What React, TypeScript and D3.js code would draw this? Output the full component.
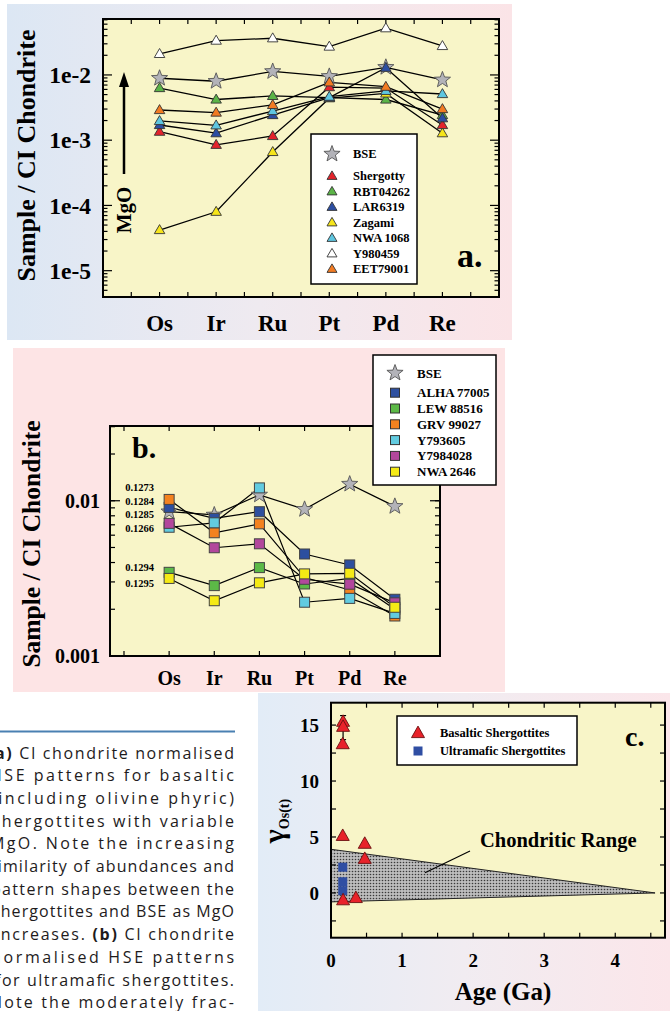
import React from "react";
import * as d3 from "d3";

// ---------- data ----------
const elements = ["Os", "Ir", "Ru", "Pt", "Pd", "Re"];

// panel a: basaltic shergottites (CI-normalised)
const bseA = [0.0089, 0.008, 0.0113, 0.0095, 0.0131, 0.0084];
const shergotty = [0.00135, 0.00085, 0.00116, 0.0065, 0.0063, 0.00171];
const rbt04262 = [0.0063, 0.0042, 0.00477, 0.0045, 0.0042, 0.00243];
const lar06319 = [0.00171, 0.00128, 0.00243, 0.0045, 0.0129, 0.00217];
const zagami = [4.2e-5, 8.0e-5, 0.00066, 0.0044, 0.0052, 0.00128];
const nwa1068 = [0.00197, 0.00169, 0.0028, 0.00465, 0.0057, 0.0051];
const y980459 = [0.021, 0.0336, 0.0365, 0.0272, 0.052, 0.0278];
const eet79001 = [0.0029, 0.00265, 0.00347, 0.0077, 0.0066, 0.003];
const yTicksA = [1e-5, 1e-4, 1e-3, 1e-2];
const yTickLabelsA = ["1e-5", "1e-4", "1e-3", "1e-2"];

// panel b: ultramafic shergottites
const bseB = [0.0085, 0.0081, 0.0109, 0.0088, 0.0128, 0.0092];
const alha77005 = [0.00906, 0.0077, 0.0085, 0.00454, 0.00386, 0.00232];
const lew88516 = [0.00346, 0.00284, 0.00371, 0.00291, 0.00316, 0.002];
const grv99027 = [0.0102, 0.00622, 0.0071, 0.0032, 0.00266, 0.00181];
const y793605 = [0.00675, 0.00721, 0.0121, 0.00222, 0.00235, 0.00188];
const y7984028 = [0.00715, 0.00498, 0.00528, 0.00312, 0.0029, 0.0022];
const nwa2646 = [0.00316, 0.00227, 0.00296, 0.00338, 0.00341, 0.00206];
const osRatioLabels = ["0.1273", "0.1284", "0.1285", "0.1266", "0.1294", "0.1295"];
const osRatioLevels = [0.01225, 0.00996, 0.00813, 0.0066, 0.00374, 0.00295];
const yTicksB = [0.001, 0.01];
const yTickLabelsB = ["0.001", "0.01"];

// panel c: gamma Os(t) vs age
const basalticAge = [0.17, 0.17, 0.165, 0.165, 0.17, 0.35, 0.475, 0.475];
const basalticGamma = [15.3, 14.85, 13.3, 5.1, -0.65, -0.45, 4.4, 3.05];
const ultramaficAge = [0.165, 0.165, 0.165];
const ultramaficGamma = [2.3, 1.0, 0.2];
const chondriticAge = [0, 4.56, 0];
const chondriticGamma = [3.9, 0, -0.8];
const errorBarAge = 0.17;
const errorBarRange = [13.7, 15.85];
const xTicksC = [0, 1, 2, 3, 4];
const yTicksC = [0, 5, 10, 15];

// caption lines (left part runs past the page edge)
const captionLines: { text: string; x0: number }[] = [
  { text: " CI chondrite normalised", x0: -12 },
  { text: "HSE patterns for basaltic", x0: -10 },
  { text: "(including olivine phyric)", x0: -9 },
  { text: "shergottites with variable", x0: -8 },
  { text: "MgO. Note the increasing", x0: -10 },
  { text: "similarity of abundances and", x0: -11 },
  { text: "pattern shapes between the", x0: -9 },
  { text: "shergottites and BSE as MgO", x0: -8 },
  { text: " CI chondrite", x0: -5 },
  { text: "normalised HSE patterns", x0: -9 },
  { text: "for ultramafic shergottites.", x0: -5 },
  { text: "Note the moderately frac-", x0: -10 },
];

const SERIF = "'Liberation Serif', 'Times New Roman', serif";
const SANS = "'Open Sans', 'Noto Sans', sans-serif";
const PLOT_BG = "#f8f5c8";

function starPath(R: number) {
  const r = R * 0.42;
  const pts: string[] = [];
  for (let i = 0; i < 10; i++) {
    const a = -Math.PI / 2 + (i * Math.PI) / 5;
    const rad = i % 2 === 0 ? R : r;
    pts.push(`${(rad * Math.cos(a)).toFixed(2)},${(rad * Math.sin(a)).toFixed(2)}`);
  }
  return "M" + pts.join("L") + "Z";
}
function triPath(w: number, h: number) {
  return `M0,${-h * 0.6}L${w / 2},${h * 0.4}L${-w / 2},${h * 0.4}Z`;
}
function logMinor(domain: [number, number]) {
  const out: number[] = [];
  for (let e = -7; e <= 0; e++) {
    for (let m = 1; m <= 9; m++) {
      const v = m * Math.pow(10, e);
      if (v > domain[0] * 1.0001 && v < domain[1] * 0.9999) out.push(v);
    }
  }
  return out;
}

// ---------- panel a ----------
function PanelA() {
  const x = d3.scaleLinear().domain([0, 7]).range([103, 499]);
  const yDom: [number, number] = [3.95e-6, 0.072];
  const y = d3.scaleLog().domain(yDom).range([297, 19]);
  const line = d3
    .line<number>()
    .x((_, i) => x(i + 1))
    .y((d) => y(d));
  const series = [
    { name: "Y980459", v: y980459, c: "#ffffff" },
    { name: "RBT04262", v: rbt04262, c: "#5bb447" },
    { name: "Zagami", v: zagami, c: "#f6e51b" },
    { name: "Shergotty", v: shergotty, c: "#e3232b" },
    { name: "LAR6319", v: lar06319, c: "#2c4ea2" },
    { name: "NWA 1068", v: nwa1068, c: "#5ec6e0" },
    { name: "EET79001", v: eet79001, c: "#f27b22" },
  ];
  const legendOrder = ["Shergotty", "RBT04262", "LAR6319", "Zagami", "NWA 1068", "Y980459", "EET79001"];
  const [x0, x1] = x.range();
  const [yb, yt] = y.range();
  const halfTicks = d3.range(0.5, 7, 0.5);
  const minor = logMinor(yDom);
  return (
    <g>
      <defs>
        <linearGradient id="bgA" x1="0" x2="1" y1="0" y2="0">
          <stop offset="0" stopColor="#dce7f4" />
          <stop offset="0.5" stopColor="#efeaf0" />
          <stop offset="1" stopColor="#fbe4e7" />
        </linearGradient>
      </defs>
      <rect x={7} y={4} width={505} height={336} fill="url(#bgA)" />
      <rect x={x0} y={yt} width={x1 - x0} height={yb - yt} fill={PLOT_BG} />
      {halfTicks.map((t) => (
        <g key={t} stroke="#000" strokeWidth={1.2}>
          <line x1={x(t)} x2={x(t)} y1={yb} y2={yb - 5} />
          <line x1={x(t)} x2={x(t)} y1={yt} y2={yt + 5} />
        </g>
      ))}
      {minor.map((t) => {
        const major = Math.abs(Math.log10(t) - Math.round(Math.log10(t))) < 1e-6;
        const len = major ? 9 : 4.5;
        return (
          <g key={t} stroke="#000" strokeWidth={1.2}>
            <line x1={x0} x2={x0 + len} y1={y(t)} y2={y(t)} />
            <line x1={x1} x2={x1 - len} y1={y(t)} y2={y(t)} />
          </g>
        );
      })}
      <rect x={x0} y={yt} width={x1 - x0} height={yb - yt} fill="none" stroke="#000" strokeWidth={2} />
      {yTicksA.map((t, i) => (
        <text key={t} x={91} y={y(t)} dy="0.35em" textAnchor="end" fontFamily={SERIF} fontWeight="bold" fontSize={23.5}>
          {yTickLabelsA[i]}
        </text>
      ))}
      {elements.map((e, i) => (
        <text key={e} x={x(i + 1)} y={331} textAnchor="middle" fontFamily={SERIF} fontWeight="bold" fontSize={23}>
          {e}
        </text>
      ))}
      <text transform="translate(35,155.5) rotate(-90)" textAnchor="middle" fontFamily={SERIF} fontWeight="bold" fontSize={26}>
        Sample / CI Chondrite
      </text>
      {/* MgO arrow */}
      <line x1={124} x2={124} y1={174} y2={84} stroke="#000" strokeWidth={2.5} />
      <path d="M124,72 L119,87 L129,87 Z" fill="#000" />
      <text transform="translate(131,210) rotate(-90)" textAnchor="middle" fontFamily={SERIF} fontWeight="bold" fontSize={21}>
        MgO
      </text>
      <path d={line(bseA) || ""} fill="none" stroke="#000" strokeWidth={1.3} />
      {series.map((s) => (
        <path key={s.name} d={line(s.v) || ""} fill="none" stroke="#000" strokeWidth={1.3} />
      ))}
      {bseA.map((v, i) => (
        <path key={i} d={starPath(8.5)} transform={`translate(${x(i + 1)},${y(v)})`} fill="#b3b3b9" stroke="#555" strokeWidth={0.9} />
      ))}
      {series.map((s) =>
        s.v.map((v, i) => (
          <path key={s.name + i} d={triPath(10.5, 9)} transform={`translate(${x(i + 1)},${y(v)})`} fill={s.c} stroke="#333" strokeWidth={0.9} />
        ))
      )}
      {/* legend */}
      <rect x={311} y={134} width={106} height={150} fill="#fff" stroke="#000" strokeWidth={1.5} />
      <path d={starPath(8.5)} transform="translate(332,154)" fill="#b3b3b9" stroke="#555" strokeWidth={0.9} />
      <text x={353} y={154} dy="0.35em" fontFamily={SERIF} fontWeight="bold" fontSize={12.5}>BSE</text>
      {legendOrder.map((n, i) => {
        const s = series.find((d) => d.name === n)!;
        const yy = 176 + i * 15.5;
        return (
          <g key={n}>
            <path d={triPath(10, 8.5)} transform={`translate(332,${yy})`} fill={s.c} stroke="#333" strokeWidth={0.9} />
            <text x={353} y={yy} dy="0.35em" fontFamily={SERIF} fontWeight="bold" fontSize={12.5}>{n}</text>
          </g>
        );
      })}
      <text x={457} y={267} fontFamily={SERIF} fontWeight="bold" fontSize={34}>a.</text>
    </g>
  );
}

// ---------- panel b ----------
function PanelB() {
  const x = d3.scaleLinear().domain([-0.31, 7]).range([110, 440]);
  const yDom: [number, number] = [0.001, 0.0303];
  const y = d3.scaleLog().domain(yDom).range([656, 426]);
  const line = d3
    .line<number>()
    .x((_, i) => x(i + 1))
    .y((d) => y(d));
  const series = [
    { name: "ALHA 77005", v: alha77005, c: "#2d4f9f" },
    { name: "LEW 88516", v: lew88516, c: "#5cb947" },
    { name: "GRV 99027", v: grv99027, c: "#f4821f" },
    { name: "Y793605", v: y793605, c: "#62cbe0" },
    { name: "Y7984028", v: y7984028, c: "#b2479c" },
    { name: "NWA 2646", v: nwa2646, c: "#f5ea15" },
  ];
  const [x0, x1] = x.range();
  const [yb, yt] = y.range();
  const minor = logMinor(yDom);
  return (
    <g>
      <rect x={13} y={348} width={492} height={344} fill="#fde4e5" />
      <rect x={x0} y={yt} width={x1 - x0} height={yb - yt} fill={PLOT_BG} />
      {d3.range(0, 7).map((t) => (
        <g key={t} stroke="#000" strokeWidth={1.2}>
          <line x1={x(t)} x2={x(t)} y1={yb} y2={yb - 5} />
          <line x1={x(t)} x2={x(t)} y1={yt} y2={yt + 5} />
        </g>
      ))}
      {minor.map((t) => (
        <g key={t} stroke="#000" strokeWidth={1.2}>
          <line x1={x0} x2={x0 + 5} y1={y(t)} y2={y(t)} />
          <line x1={x1} x2={x1 - 5} y1={y(t)} y2={y(t)} />
        </g>
      ))}
      {yTicksB.map((t) => (
        <g key={t} stroke="#000" strokeWidth={1.2}>
          <line x1={x0} x2={x0 + 10} y1={y(t)} y2={y(t)} />
          <line x1={x1} x2={x1 - 10} y1={y(t)} y2={y(t)} />
        </g>
      ))}
      <rect x={x0} y={yt} width={x1 - x0} height={yb - yt} fill="none" stroke="#000" strokeWidth={2} />
      {yTicksB.map((t, i) => (
        <text key={t} x={100} y={y(t)} dy="0.35em" textAnchor="end" fontFamily={SERIF} fontWeight="bold" fontSize={20}>
          {yTickLabelsB[i]}
        </text>
      ))}
      {elements.map((e, i) => (
        <text key={e} x={x(i + 1)} y={685} textAnchor="middle" fontFamily={SERIF} fontWeight="bold" fontSize={20}>
          {e}
        </text>
      ))}
      <text transform="translate(40,544) rotate(-90)" textAnchor="middle" fontFamily={SERIF} fontWeight="bold" fontSize={25.5}>
        Sample / CI Chondrite
      </text>
      {osRatioLabels.map((l, i) => (
        <text key={l} x={154} y={y(osRatioLevels[i])} dy="0.35em" textAnchor="end" fontFamily={SERIF} fontWeight="bold" fontSize={10.5}>
          {l}
        </text>
      ))}
      <path d={line(bseB) || ""} fill="none" stroke="#000" strokeWidth={1.2} />
      {series.map((s) => (
        <path key={s.name} d={line(s.v) || ""} fill="none" stroke="#000" strokeWidth={1.2} />
      ))}
      {bseB.map((v, i) => (
        <path key={i} d={starPath(8.5)} transform={`translate(${x(i + 1)},${y(v)})`} fill="#b3b3b9" stroke="#555" strokeWidth={0.9} />
      ))}
      {series.map((s) =>
        s.v.map((v, i) => (
          <rect key={s.name + i} x={x(i + 1) - 5} y={y(v) - 5} width={10} height={10} fill={s.c} stroke="#444" strokeWidth={1} />
        ))
      )}
      <text x={132} y={458} fontFamily={SERIF} fontWeight="bold" fontSize={30}>b.</text>
      {/* legend */}
      <rect x={373} y={355} width={123} height={130} fill="#fff" stroke="#000" strokeWidth={1.5} />
      <path d={starPath(8.5)} transform="translate(395,373)" fill="#b3b3b9" stroke="#555" strokeWidth={0.9} />
      <text x={417} y={373} dy="0.35em" fontFamily={SERIF} fontWeight="bold" fontSize={13}>BSE</text>
      {series.map((s, i) => {
        const yy = 392.7 + i * 15.8;
        return (
          <g key={s.name}>
            <rect x={390.5} y={yy - 4.5} width={9} height={9} fill={s.c} stroke="#333" strokeWidth={1} />
            <text x={417} y={yy} dy="0.35em" fontFamily={SERIF} fontWeight="bold" fontSize={13}>{s.name}</text>
          </g>
        );
      })}
    </g>
  );
}

// ---------- panel c ----------
function PanelC() {
  const x = d3.scaleLinear().domain([0, 4.7]).range([331, 665]);
  const y = d3.scaleLinear().domain([-4, 17]).range([937.7, 702.7]);
  const [x0, x1] = x.range();
  const [yb, yt] = y.range();
  const area = d3
    .line<number>()
    .x((_, i) => x(chondriticAge[i]))
    .y((d) => y(d));
  return (
    <g>
      <defs>
        <linearGradient id="bgC" x1="0" x2="1" y1="0" y2="0">
          <stop offset="0" stopColor="#e2ecf7" />
          <stop offset="0.5" stopColor="#f1ecf1" />
          <stop offset="1" stopColor="#fbe6ea" />
        </linearGradient>
        <pattern id="dots" width={3} height={3} patternUnits="userSpaceOnUse">
          <rect width={3} height={3} fill="#bdbdbd" />
          <circle cx={1.5} cy={1.5} r={0.8} fill="#3a3a3a" />
        </pattern>
      </defs>
      <rect x={258} y={693} width={412} height={318} fill="url(#bgC)" />
      <rect x={x0} y={yt} width={x1 - x0} height={yb - yt} fill={PLOT_BG} />
      <path d={(area(chondriticGamma) || "") + "Z"} fill="url(#dots)" stroke="#222" strokeWidth={1} />
      {d3.range(0.5, 4.7, 0.5).map((t) => (
        <g key={t} stroke="#000" strokeWidth={1.2}>
          <line x1={x(t)} x2={x(t)} y1={yb} y2={yb - 5} />
          <line x1={x(t)} x2={x(t)} y1={yt} y2={yt + 5} />
        </g>
      ))}
      {d3.range(-2.5, 17, 2.5).map((t) => (
        <g key={t} stroke="#000" strokeWidth={1.2}>
          <line x1={x0} x2={x0 + 5} y1={y(t)} y2={y(t)} />
          <line x1={x1} x2={x1 - 5} y1={y(t)} y2={y(t)} />
        </g>
      ))}
      <rect x={x0} y={yt} width={x1 - x0} height={yb - yt} fill="none" stroke="#000" strokeWidth={2} />
      {xTicksC.map((t) => (
        <text key={t} x={x(t)} y={967} textAnchor="middle" fontFamily={SERIF} fontWeight="bold" fontSize={19}>{t}</text>
      ))}
      {yTicksC.map((t) => (
        <text key={t} x={319} y={y(t)} dy="0.35em" textAnchor="end" fontFamily={SERIF} fontWeight="bold" fontSize={19}>{t}</text>
      ))}
      <text x={503} y={1000} textAnchor="middle" fontFamily={SERIF} fontWeight="bold" fontSize={25}>Age (Ga)</text>
      <text transform="translate(284,821) rotate(-90)" textAnchor="middle" fontFamily={SERIF} fontWeight="bold">
        <tspan fontSize={30}>γ</tspan>
        <tspan fontSize={14} dy={5}>Os(t)</tspan>
      </text>
      <line x1={470} y1={851} x2={425} y2={872.7} stroke="#000" strokeWidth={1.2} />
      <text x={480} y={846.5} fontFamily={SERIF} fontWeight="bold" fontSize={20.5}>Chondritic Range</text>
      <g stroke="#000" strokeWidth={1.2}>
        <line x1={x(errorBarAge)} x2={x(errorBarAge)} y1={y(errorBarRange[0])} y2={y(errorBarRange[1])} />
        <line x1={x(errorBarAge) - 3} x2={x(errorBarAge) + 3} y1={y(errorBarRange[0])} y2={y(errorBarRange[0])} />
        <line x1={x(errorBarAge) - 3} x2={x(errorBarAge) + 3} y1={y(errorBarRange[1])} y2={y(errorBarRange[1])} />
      </g>
      {ultramaficAge.map((a, i) => (
        <rect key={i} x={x(a) - 4.5} y={y(ultramaficGamma[i]) - 4.5} width={9} height={9} fill="#2f4ea3" />
      ))}
      {basalticAge.map((a, i) => (
        <path key={i} d={triPath(13, 11.5)} transform={`translate(${x(a)},${y(basalticGamma[i])})`} fill="#e8222a" stroke="#6a1010" strokeWidth={0.9} />
      ))}
      <rect x={397} y={716} width={180} height={49} fill="#fff" stroke="#000" strokeWidth={1.5} />
      <path d={triPath(13, 11.5)} transform="translate(418,733)" fill="#e8222a" stroke="#6a1010" strokeWidth={0.9} />
      <text x={440} y={733} dy="0.35em" fontFamily={SERIF} fontWeight="bold" fontSize={12.5}>Basaltic Shergottites</text>
      <rect x={413.5} y={746.5} width={9} height={9} fill="#2f4ea3" />
      <text x={440} y={751} dy="0.35em" fontFamily={SERIF} fontWeight="bold" fontSize={12.5}>Ultramafic Shergottites</text>
      <text x={625} y={746} fontFamily={SERIF} fontWeight="bold" fontSize={28}>c.</text>
    </g>
  );
}

// ---------- caption ----------
function Caption() {
  const right = 234;
  return (
    <g>
      <line x1={0} x2={235} y1={731.5} y2={731.5} stroke="#4a80b2" strokeWidth={2} />
      {captionLines.map((l, i) => {
        const yy = 758.5 + i * 22.7;
        const w = right - l.x0;
        const common = {
          x: l.x0,
          y: yy,
          fontFamily: SANS,
          fontSize: 16,
          fill: "#1e1b1c",
          textLength: w,
          lengthAdjust: "spacing",
        } as any;
        if (i === 0) {
          return (
            <text key={i} {...common}>
              <tspan fontWeight="bold">(a)</tspan>
              <tspan>{l.text}</tspan>
            </text>
          );
        }
        if (i === 8) {
          return (
            <text key={i} {...common}>
              <tspan>increases. </tspan>
              <tspan fontWeight="bold">(b)</tspan>
              <tspan>{l.text}</tspan>
            </text>
          );
        }
        return (
          <text key={i} {...common}>
            {l.text}
          </text>
        );
      })}
    </g>
  );
}

export default function App() {
  return (
    <svg
      width={670}
      height={1011}
      viewBox="0 0 670 1011"
      style={{ position: "absolute", left: 0, top: 0, background: "#fff" }}
    >
      <rect width={670} height={1011} fill="#fff" />
      <PanelA />
      <PanelB />
      <Caption />
      <PanelC />
    </svg>
  );
}
